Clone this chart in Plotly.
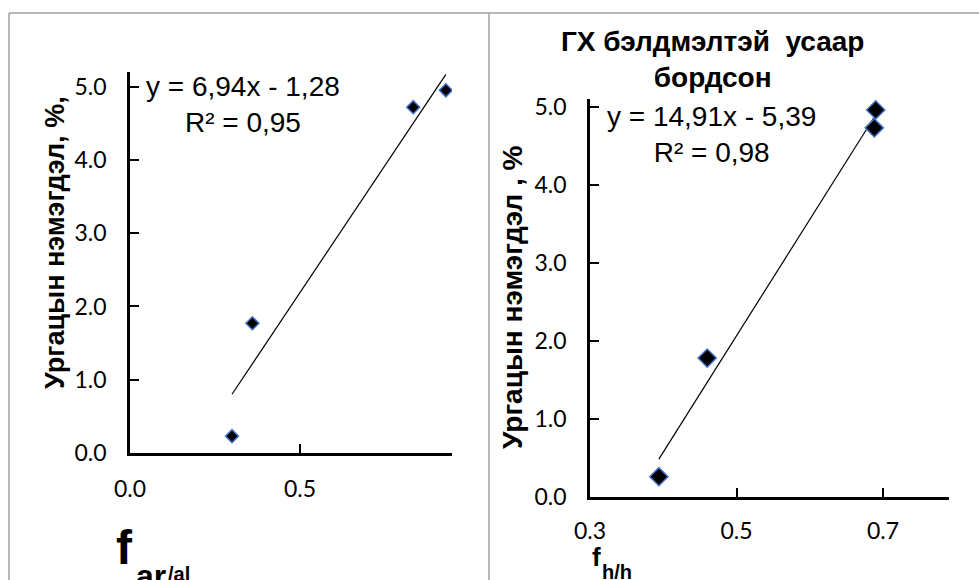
import plotly.graph_objects as go

# ---- data ----
left_x = [0.30, 0.36, 0.833, 0.929]
left_y = [0.23, 1.77, 4.72, 4.95]
right_x = [0.394, 0.46, 0.688, 0.69]
right_y = [0.26, 1.78, 4.73, 4.96]

left_fit = (6.94, -1.28)    # slope, intercept
right_fit = (14.91, -5.39)

left_eq = ["y = 6,94x - 1,28", "R² = 0,95"]
right_eq = ["y = 14,91x - 5,39", "R² = 0,98"]

y_ticks = [0, 1, 2, 3, 4, 5]
left_x_ticks = [0.0, 0.5]
right_x_ticks = [0.3, 0.5, 0.7]

right_title = ["ГХ бэлдмэлтэй  усаар", "бордсон"]
left_ytitle = "Ургацын нэмэгдэл, %,"
right_ytitle = "Ургацын нэмэгдэл , %"

W, H = 979, 580


def px(x):
    return x / W


def py(y):
    return 1 - y / H


def fit_line(xs, coef):
    lo, hi = min(xs), max(xs)
    return [lo, hi], [coef[0] * lo + coef[1], coef[0] * hi + coef[1]]


fig = go.Figure()

lx, ly = fit_line(left_x, left_fit)
rx, ry = fit_line(right_x, right_fit)

fig.add_trace(go.Scatter(x=lx, y=ly, mode="lines", line=dict(color="black", width=1.2),
                         xaxis="x", yaxis="y", showlegend=False, hoverinfo="skip"))
fig.add_trace(go.Scatter(x=left_x, y=left_y, mode="markers",
                         marker=dict(symbol="diamond", size=10, color="black",
                                     line=dict(color="#4472c4", width=1.5)),
                         xaxis="x", yaxis="y", showlegend=False))
fig.add_trace(go.Scatter(x=rx, y=ry, mode="lines", line=dict(color="black", width=1.2),
                         xaxis="x2", yaxis="y2", showlegend=False, hoverinfo="skip"))
fig.add_trace(go.Scatter(x=right_x, y=right_y, mode="markers",
                         marker=dict(symbol="diamond", size=14, color="black",
                                     line=dict(color="#4472c4", width=1.5)),
                         xaxis="x2", yaxis="y2", showlegend=False))

tickfont = dict(family="Lato", size=23, color="black")
axis_common = dict(showline=True, linecolor="black", linewidth=2.5, ticks="inside",
                   ticklen=9, tickwidth=2, tickcolor="black", showgrid=False,
                   zeroline=False, tickfont=tickfont, automargin=False)

fig.update_layout(
    template="none",
    width=W, height=H, margin=dict(l=0, r=0, t=0, b=0, pad=0),
    paper_bgcolor="white", plot_bgcolor="white",
    xaxis=dict(domain=[px(130), px(452)], range=[0, 0.947], tickvals=left_x_ticks,
               tickformat=".1f", anchor="y", ticklabelstandoff=14, **axis_common),
    yaxis=dict(domain=[py(453), py(72)], range=[0, 5.2], tickvals=y_ticks,
               tickformat=".1f", anchor="x", ticklabelstandoff=16, **axis_common),
    xaxis2=dict(domain=[px(590), px(949)], range=[0.3, 0.79], tickvals=right_x_ticks,
                tickformat=".1f", anchor="y2", ticklabelstandoff=12, **axis_common),
    yaxis2=dict(domain=[py(497), py(99)], range=[0, 5.1], tickvals=y_ticks,
                tickformat=".1f", anchor="x2", ticklabelstandoff=16, **axis_common),
)

border = dict(color="#a0a0a0", width=1.5)
fig.add_shape(type="line", xref="paper", yref="paper", x0=px(9), x1=1, y0=py(13), y1=py(13), line=border)
fig.add_shape(type="line", xref="paper", yref="paper", x0=px(9), x1=px(9), y0=py(13), y1=0, line=border)
fig.add_shape(type="line", xref="paper", yref="paper", x0=px(489), x1=px(489), y0=py(13), y1=0, line=border)

FAM = "Arial, Liberation Sans"
eqfont = dict(family=FAM, size=28, color="black")
boldfont = dict(family=FAM, size=27, color="black")

ann = []
ann.append(dict(x=px(243), y=py(104), text="<br>".join(left_eq), font=eqfont, align="center"))
ann.append(dict(x=px(711), y=py(135), text="<br>".join(right_eq), font=eqfont, align="center"))
ann.append(dict(x=px(712), y=py(60), text="<b>" + "<br>".join(right_title) + "</b>",
                font=dict(family=FAM, size=28, color="black"), align="center"))
ann.append(dict(x=px(55), y=py(243), text="<b>" + left_ytitle + "</b>", font=boldfont, textangle=-90))
ann.append(dict(x=px(512), y=py(297), text="<b>" + right_ytitle + "</b>",
                font=dict(family=FAM, size=28, color="black"), textangle=-90))
# x titles
ann.append(dict(x=px(114), y=py(547), text="<b>f</b>", font=dict(family=FAM, size=48, color="black"), xanchor="left"))
ann.append(dict(x=px(134), y=py(576), text="<b>ar</b>", font=dict(family=FAM, size=32, color="black"), xanchor="left"))
ann.append(dict(x=px(166), y=py(574), text="<b>/al</b>", font=dict(family=FAM, size=20, color="black"), xanchor="left"))
ann.append(dict(x=px(590), y=py(557), text="<b>f</b>", font=dict(family=FAM, size=26, color="black"), xanchor="left"))
ann.append(dict(x=px(600), y=py(572), text="<b>h/h</b>", font=dict(family=FAM, size=20, color="black"), xanchor="left"))

for a in ann:
    a.setdefault("xref", "paper")
    a.setdefault("yref", "paper")
    a.setdefault("showarrow", False)
    a.setdefault("xanchor", "center")
    a.setdefault("yanchor", "middle")
    fig.add_annotation(**a)

fig.write_html("out.html", config={"displayModeBar": False},
               post_script="document.body.style.margin='0';document.body.style.overflow='hidden';")
